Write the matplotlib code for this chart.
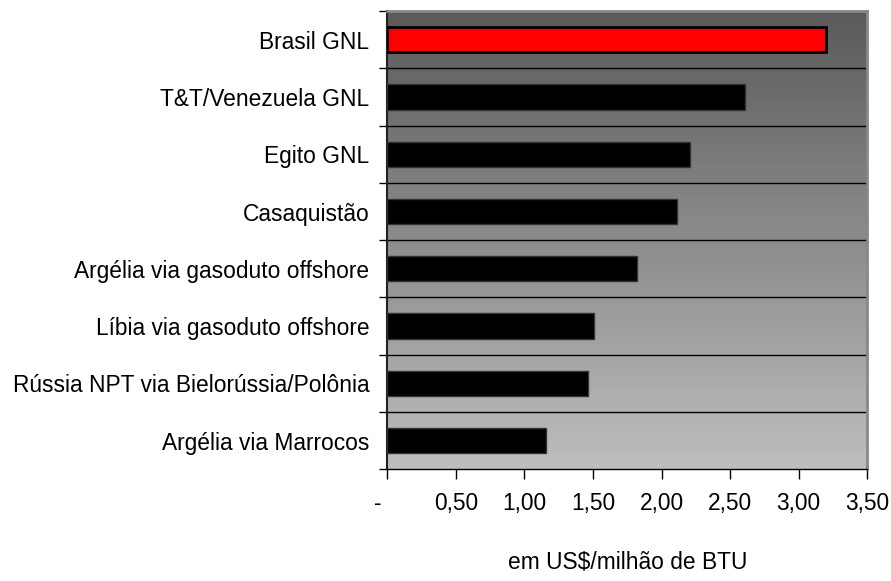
import numpy as np
import matplotlib
matplotlib.use("Agg")
import matplotlib.pyplot as plt

plt.rcParams['font.family'] = ['Liberation Sans', 'DejaVu Sans']

# dados (de cima para baixo)
paises = ['Brasil GNL', 'T&T/Venezuela GNL', 'Egito GNL', 'Casaquistão',
          'Argélia via gasoduto offshore', 'Líbia via gasoduto offshore',
          'Rússia NPT via Bielorússia/Polônia', 'Argélia via Marrocos']
custos = [3.20, 2.61, 2.21, 2.11, 1.82, 1.51, 1.46, 1.16]
xticks = [0, 0.5, 1.0, 1.5, 2.0, 2.5, 3.0, 3.5]
xticklabels = ['-   ', '0,50', '1,00', '1,50', '2,00', '2,50', '3,00', '3,50']

fig = plt.figure(figsize=(8.91, 5.81), dpi=100)
ax = fig.add_axes([0.4347, 0.1922, 0.5387, 0.7889])

n = len(paises)
ypos = np.arange(n) + 0.5

# fundo em degradê (escuro em cima, claro embaixo)
grad = np.linspace(0, 1, 256).reshape(-1, 1)
top = np.array([90, 90, 90]) / 255
bot = np.array([190, 190, 190]) / 255
img = top + (bot - top) * grad[:, :, None]
ax.imshow(img, extent=[0, 1, 0, 1], transform=ax.transAxes, aspect='auto',
          origin='upper', zorder=0)

cores = ['#ff0000'] + ['#000000'] * (n - 1)
bordas = ['#000000'] + ['#333333'] * (n - 1)
for y, v, c, b in zip(ypos, custos, cores, bordas):
    ax.barh(y, v, height=0.44, color=c, edgecolor=b,
            linewidth=2.0 if c == '#ff0000' else 1.0, zorder=3)

# linhas horizontais nos limites das categorias
for yb in range(1, n):
    ax.axhline(yb, color='black', linewidth=1.0, zorder=2)

ax.set_xlim(0, 3.5)
ax.set_ylim(n, 0)

ax.set_yticks(np.arange(n + 1))
ax.set_yticklabels([])
ax.set_yticks(ypos, minor=True)
ax.set_yticklabels(paises, minor=True, fontsize=16.4)
ax.tick_params(axis='y', which='major', length=6, width=1, direction='out')
ax.tick_params(axis='y', which='minor', length=0, pad=13)

ax.set_xticks(xticks)
ax.set_xticklabels(xticklabels, fontsize=16.4)
ax.tick_params(axis='x', length=7, width=1, direction='out', pad=9)

ax.set_xlabel('em US$/milhão de BTU', fontsize=16.4, labelpad=26)

for s in ['top', 'right']:
    ax.spines[s].set_color('#888888')
    ax.spines[s].set_linewidth(2)
ax.spines['left'].set_color('#222222')
ax.spines['left'].set_linewidth(1.5)
ax.spines['bottom'].set_color('black')
ax.spines['bottom'].set_linewidth(1)

fig.savefig('out.png', dpi=100)
